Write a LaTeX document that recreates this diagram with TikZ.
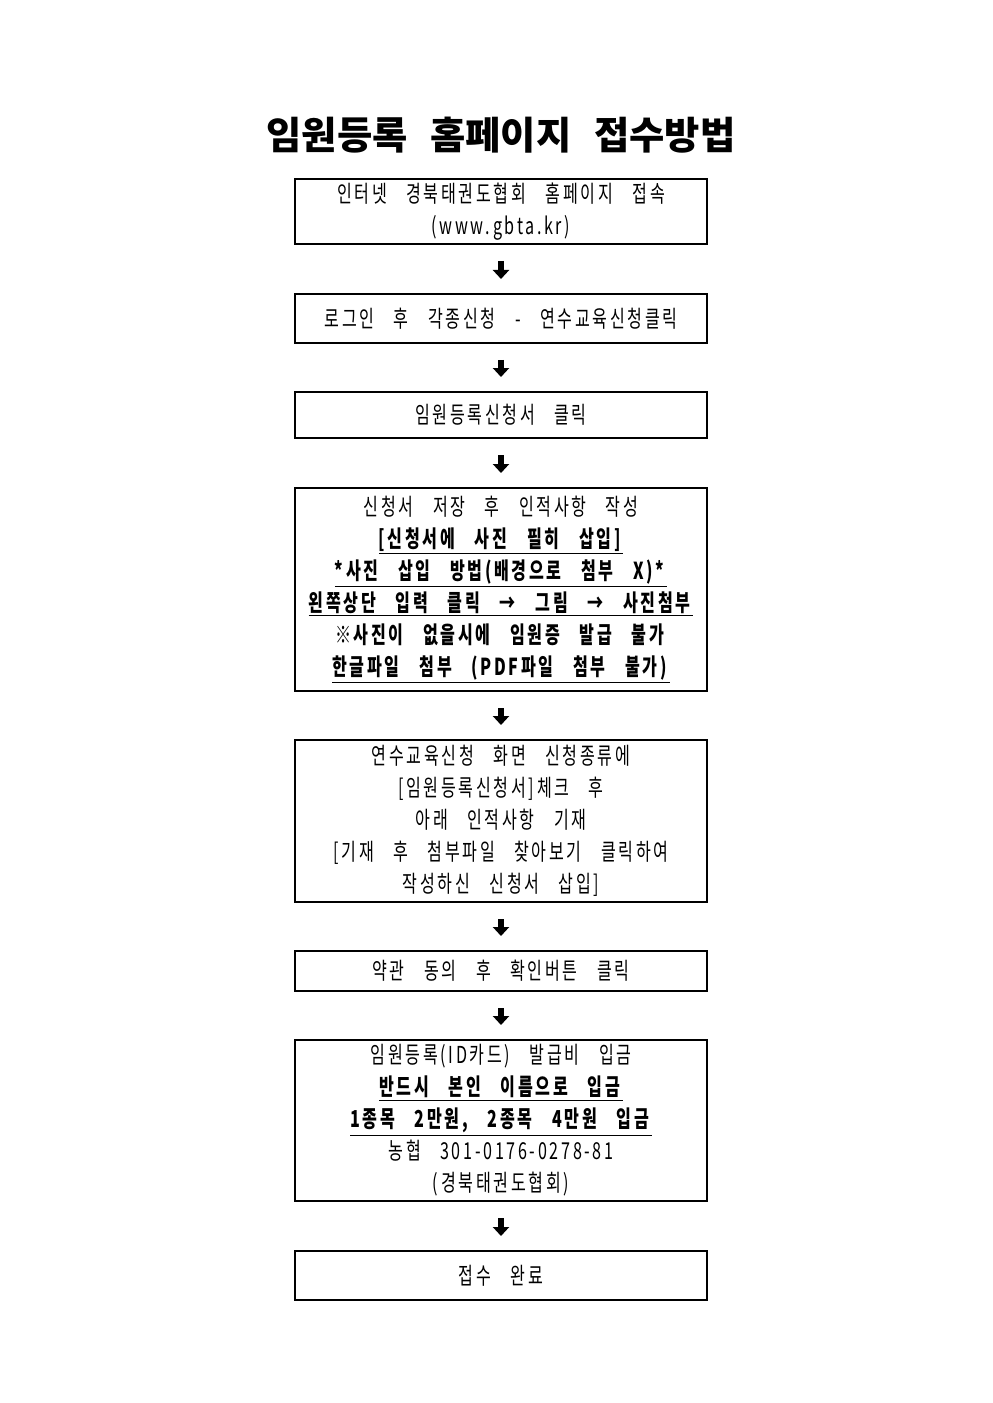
\documentclass[tikz,border=0pt]{standalone}
\usepackage{fontspec}
\setmainfont{Noto Sans CJK KR}[FakeStretch=0.69, LetterSpace=11.5, WordSpace=3.1]
\newfontfamily\titlefont{Noto Sans CJK KR}[WordSpace=2.6]
\usetikzlibrary{arrows.meta}
\newcommand{\ul}[1]{\underline{\textbf{#1}}}

\begin{document}
\begin{tikzpicture}[x=0.6pt, y=-0.6pt,
    stepbox/.style={draw, line width=1.2pt, minimum width=247.2pt, align=center, inner sep=0pt,
        font=\fontsize{14pt}{19.2pt}\selectfont},
    downarr/.style={line width=3.6pt, -{Triangle[width=9.6pt, length=5.4pt]},
        shorten <=9.6pt, shorten >=8.4pt}]
    \useasboundingbox (0,0) rectangle (992,1403);
    \node[font=\titlefont\bfseries\fontsize{23pt}{26pt}\selectfont] (title) at (501,135) {임원등록 홈페이지 접수방법};
    \node[stepbox, minimum height=39pt] (web) at (501,211.5) {인터넷 경북태권도협회 홈페이지 접속\\(www.gbta.kr)};
    \node[stepbox, minimum height=29.4pt] (login) at (501,318.5) {로그인 후 각종신청 - 연수교육신청클릭};
    \node[stepbox, minimum height=27.6pt] (form) at (501,415) {임원등록신청서 클릭};
    \node[stepbox, minimum height=121.8pt] (write) at (501,589.5) {신청서 저장 후 인적사항 작성\\
        \ul{[신청서에 사진 필히 삽입]}\\
        \ul{*사진 삽입 방법(배경으로 첨부 X)*}\\
        \ul{왼쪽상단 입력 클릭 → 그림 → 사진첨부}\\
        \textbf{※사진이 없을시에 임원증 발급 불가}\\
        \ul{한글파일 첨부 (PDF파일 첨부 불가)}};
    \node[stepbox, minimum height=97.2pt] (apply) at (501,821) {연수교육신청 화면 신청종류에\\
        {[}임원등록신청서]체크 후\\
        아래 인적사항 기재\\
        {[}기재 후 첨부파일 찾아보기 클릭하여\\
        작성하신 신청서 삽입]};
    \node[stepbox, minimum height=24pt] (agree) at (501,971) {약관 동의 후 확인버튼 클릭};
    \node[stepbox, minimum height=96.6pt] (pay) at (501,1120.5) {임원등록(ID카드) 발급비 입금\\
        \ul{반드시 본인 이름으로 입금}\\
        \ul{1종목 2만원, 2종목 4만원 입금}\\
        농협 301-0176-0278-81\\
        (경북태권도협회)};
    \node[stepbox, minimum height=29.4pt] (done) at (501,1275.5) {접수 완료};
    % arrows between steps
    \draw[downarr] (web) -- (login);
    \draw[downarr] (login) -- (form);
    \draw[downarr] (form) -- (write);
    \draw[downarr] (write) -- (apply);
    \draw[downarr] (apply) -- (agree);
    \draw[downarr] (agree) -- (pay);
    \draw[downarr] (pay) -- (done);
\end{tikzpicture}
\end{document}
